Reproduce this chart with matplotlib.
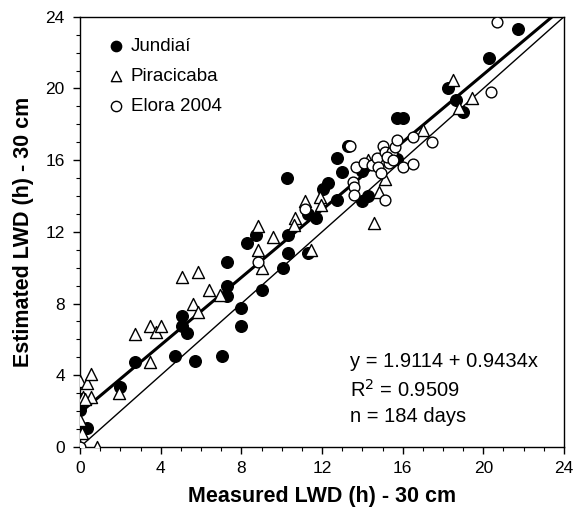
import numpy as np
import matplotlib.pyplot as plt

plt.rcParams["font.family"] = ["Liberation Sans", "DejaVu Sans"]

# ---- data (measured vs estimated LWD, hours) ----
jund_x = [0.0, 0.0, 0.35, 1.98, 2.73, 4.7, 5.05, 5.05, 5.3, 5.7, 7.05,
          7.3, 7.3, 7.3, 8.0, 8.0, 8.3, 8.7, 9.0, 10.05, 10.3, 10.3, 10.25,
          11.3, 11.3, 11.7, 12.05, 12.3, 12.75, 12.75, 13.0, 13.3, 14.0, 14.3,
          14.0, 15.7, 15.7, 16.0, 18.25, 18.65, 19.0, 20.3, 21.7]
jund_y = [2.05, 2.7, 1.05, 3.35, 4.75, 5.05, 7.3, 6.75, 6.35, 4.8, 5.1,
          10.3, 9.0, 8.4, 7.75, 6.75, 11.4, 11.8, 8.75, 10.0, 10.8, 11.8, 15.0,
          13.0, 10.8, 12.8, 14.4, 14.7, 16.1, 13.8, 15.35, 16.8, 13.7, 14.0,
          15.4, 16.05, 18.35, 18.35, 20.0, 19.35, 18.7, 21.7, 23.3]

pira_x = [0.0, 0.33, 0.55, 0.15, 0.55, 0.25, 0.0, 0.1, 0.0, 0.85, 1.95, 2.7,
          3.45, 3.45, 3.75, 4.0, 5.05, 5.85, 5.6, 5.85, 6.4, 6.95, 8.8, 8.8,
          9.0, 9.55, 10.65, 10.6, 11.15, 11.45, 11.9, 11.95, 14.3, 15.1,
          14.85, 14.6, 17.0, 18.5, 19.45, 18.8]
pira_y = [3.7, 3.55, 4.05, 2.8, 2.8, 2.7, 1.5, 0.8, 0.0, 0.0, 3.0, 6.3,
          4.75, 6.75, 6.4, 6.75, 9.5, 9.75, 8.0, 7.5, 8.75, 8.5, 12.3, 11.0,
          10.0, 11.7, 12.8, 12.4, 13.7, 11.0, 13.95, 13.5, 16.0, 14.95,
          14.25, 12.5, 17.7, 20.5, 19.45, 18.9]

elora_x = [0.0, 8.8, 11.15, 13.4, 13.55, 13.6, 13.6, 13.7, 14.1, 14.5, 14.75,
           14.8, 15.0, 15.1, 15.3, 15.45, 15.6, 15.7, 15.1, 16.0, 16.5, 16.5,
           17.45, 20.4, 20.7, 15.2, 14.9, 15.5]
elora_y = [0.0, 10.3, 13.3, 16.8, 14.8, 14.5, 14.05, 15.6, 15.85, 15.75, 16.1,
           15.6, 16.8, 16.45, 15.85, 16.45, 16.75, 17.1, 13.8, 15.6, 17.3, 15.8,
           17.0, 19.8, 23.7, 16.2, 15.3, 16.0]

fit_a, fit_b = 1.9114, 0.9434

fig = plt.figure(figsize=(5.85, 5.09), dpi=100)
ax = fig.add_axes([0.137, 0.122, 0.827, 0.845])

# 1:1 line and fitted regression line
ax.plot([0, 24], [0, 24], color="black", lw=1.0, zorder=2)
x_end = (24 - fit_a) / fit_b
ax.plot([0, x_end], [fit_a, fit_a + fit_b * x_end], color="black", lw=2.2, zorder=2)

ax.scatter(jund_x, jund_y, s=70, marker="o", facecolor="black", edgecolor="black",
           zorder=3, label="Jundiaí")
ax.scatter(pira_x, pira_y, s=75, marker="^", facecolor="white", edgecolor="black",
           linewidths=1.0, zorder=4, label="Piracicaba")
ax.scatter(elora_x, elora_y, s=60, marker="o", facecolor="white", edgecolor="black",
           linewidths=1.0, zorder=4, label="Elora 2004")

ax.set_xlim(0, 24)
ax.set_ylim(0, 24)
ax.set_xticks(np.arange(0, 25, 4))
ax.set_yticks(np.arange(0, 25, 4))
ax.set_xticks(np.arange(0, 25, 1), minor=True)
ax.set_yticks(np.arange(0, 25, 1), minor=True)
ax.tick_params(which="major", length=5, width=1, labelsize=12.5, direction="out")
ax.tick_params(which="minor", length=3, width=0.8, direction="out")
ax.tick_params(axis="x", pad=5)
ax.tick_params(axis="y", pad=6)
for sp in ax.spines.values():
    sp.set_linewidth(1.0)

ax.set_xlabel("Measured LWD (h) - 30 cm", fontsize=15.5, fontweight="bold", labelpad=7)
ax.set_ylabel("Estimated LWD (h) - 30 cm", fontsize=15.5, fontweight="bold", labelpad=8)

leg = ax.legend(loc="upper left", frameon=False, fontsize=13.5, handletextpad=0.0,
                labelspacing=0.68, borderaxespad=0.4, handlelength=1.5,
                bbox_to_anchor=(0.015, 0.985), scatterpoints=1)
for h in leg.legend_handles:
    h.set_sizes([55])

ax.text(0.558, 0.198, "y = 1.9114 + 0.9434x", transform=ax.transAxes, fontsize=14.5,
        va="center")
ax.text(0.558, 0.133, "R$^2$ = 0.9509", transform=ax.transAxes, fontsize=14.5,
        va="center")
ax.text(0.558, 0.070, "n = 184 days", transform=ax.transAxes, fontsize=14.5,
        va="center")

fig.savefig("out.png", dpi=100)
